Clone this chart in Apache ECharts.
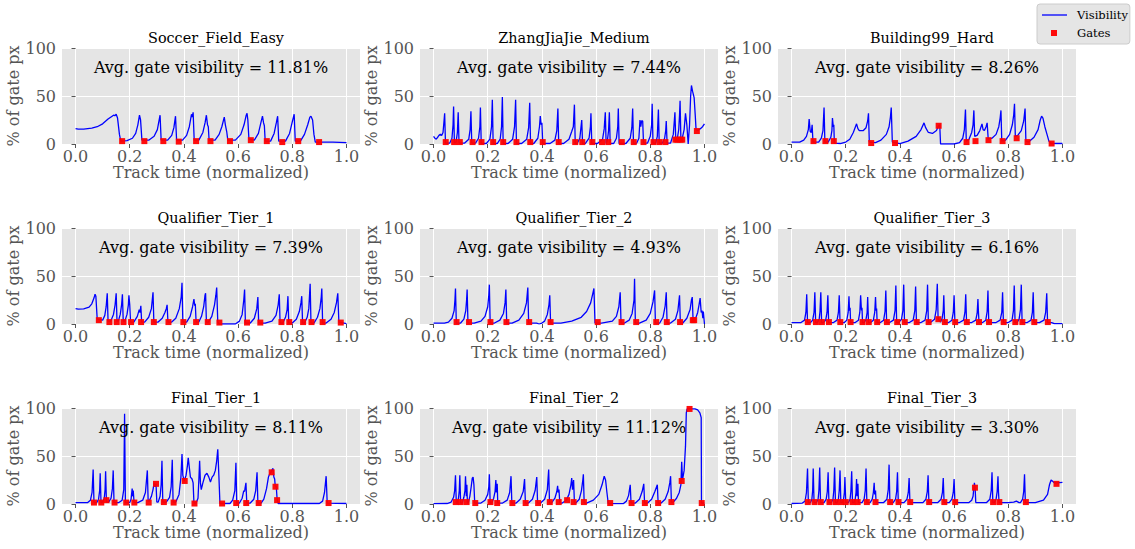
<!DOCTYPE html>
<html><head><meta charset="utf-8">
<script src="https://cdn.jsdelivr.net/npm/echarts@6/dist/echarts.min.js"></script>
<style>html,body{margin:0;padding:0;background:#fff}#c{width:1135px;height:549px}</style>
</head><body><div id="c"></div>
<script>
// ---------- data ----------
const panelTitles = ['Soccer_Field_Easy','ZhangJiaJie_Medium','Building99_Hard','Qualifier_Tier_1','Qualifier_Tier_2','Qualifier_Tier_3','Final_Tier_1','Final_Tier_2','Final_Tier_3'];
const avgVisibility = ['11.81','7.44','8.26','7.39','4.93','6.16','8.11','11.12','3.30'];
const xTicks = [0,0.2,0.4,0.6,0.8,1.0];
const yTicks = [0,50,100];

// visibility curves, flat [x,y,x,y,...]
const visSoccer = [0,16, 0.01,15.5, 0.03,15.5, 0.06,16.5, 0.08,18, 0.10,21, 0.12,26, 0.135,29, 0.14,30, 0.145,29.5, 0.15,31, 0.155,27, 0.162,10, 0.167,3,
0.19,3.5, 0.21,6, 0.222,11, 0.23,20, 0.236,30, 0.24,25, 0.245,4,
0.27,4, 0.29,8, 0.302,15, 0.308,24, 0.312,30, 0.316,4,
0.34,4, 0.355,9, 0.363,17, 0.369,29, 0.373,4,
0.395,4, 0.41,9, 0.42,18, 0.428,31, 0.431,28, 0.434,33, 0.438,4,
0.455,4, 0.47,12, 0.478,22, 0.483,30, 0.487,20, 0.49,18, 0.493,4,
0.515,4, 0.53,10, 0.54,18, 0.549,28, 0.553,20, 0.558,13, 0.562,4,
0.59,4, 0.61,10, 0.622,20, 0.63,30, 0.633,32, 0.636,25, 0.64,5,
0.66,4, 0.675,11, 0.684,22, 0.69,29, 0.694,22, 0.697,19, 0.7,3,
0.72,3, 0.733,11, 0.741,22, 0.746,29, 0.75,3,
0.775,3, 0.79,11, 0.8,23, 0.807,31, 0.811,3,
0.83,3, 0.845,10, 0.857,20, 0.865,28, 0.869,29, 0.875,25, 0.88,10, 0.885,2,
0.95,2, 1.0,1.5];
const visZhang = [0,8, 0.005,6, 0.01,5, 0.015,7, 0.02,9, 0.025,10, 0.03,9, 0.035,12, 0.039,25, 0.041,32, 0.044,1,
0.06,1, 0.068,6, 0.072,20, 0.074,39, 0.077,1,
0.083,2, 0.088,12, 0.091,33, 0.094,1,
0.115,1, 0.13,5, 0.135,15, 0.138,34, 0.141,1,
0.155,1, 0.166,6, 0.171,18, 0.173,38, 0.176,0.5,
0.195,0.5, 0.208,5, 0.214,18, 0.217,46, 0.22,0.5,
0.235,0.5, 0.246,5, 0.251,18, 0.254,49, 0.257,0.5,
0.275,0.5, 0.292,5, 0.299,18, 0.303,46, 0.306,0.5,
0.325,0.5, 0.344,5, 0.351,17, 0.355,43, 0.358,0.5,
0.37,0.5, 0.385,6, 0.391,18, 0.394,29, 0.397,20, 0.4,22, 0.403,0.5,
0.43,0.5, 0.448,4, 0.455,14, 0.459,37, 0.462,0.5,
0.48,0.5, 0.5,5, 0.51,13, 0.516,18, 0.52,41, 0.523,0.5,
0.53,0.5, 0.54,6, 0.547,25, 0.55,0.5,
0.56,0.5, 0.574,6, 0.579,18, 0.581,32, 0.584,0.5,
0.605,0.5, 0.624,5, 0.63,16, 0.634,33, 0.637,0.5, 0.642,4, 0.646,14, 0.649,33, 0.652,0.5,
0.665,0.5, 0.675,6, 0.68,18, 0.682,37, 0.685,0.5,
0.71,0.5, 0.726,6, 0.732,17, 0.735,37, 0.738,0.5,
0.75,1, 0.758,6, 0.762,25, 0.765,18, 0.768,24, 0.772,24, 0.775,1,
0.79,1, 0.8,8, 0.805,20, 0.807,42, 0.81,1,
0.82,1, 0.826,8, 0.83,36, 0.833,1,
0.845,1, 0.853,6, 0.857,14, 0.859,24, 0.862,1,
0.875,1, 0.885,10, 0.889,25, 0.891,33, 0.894,5,
0.9,6, 0.905,15, 0.908,30, 0.91,45, 0.913,5,
0.918,6, 0.925,15, 0.93,32, 0.935,20, 0.94,0, 0.945,20, 0.949,50, 0.952,61, 0.956,55, 0.962,48, 0.966,30, 0.969,15, 0.975,14, 0.985,16, 0.993,18, 1.0,21];
const visBuilding = [0,2, 0.03,2, 0.045,4, 0.055,8, 0.062,15, 0.065,26, 0.069,13, 0.073,12, 0.076,20, 0.079,2,
0.1,2, 0.11,6, 0.116,14, 0.12,38, 0.123,2,
0.135,2, 0.145,7, 0.149,14, 0.151,27, 0.154,18, 0.156,20, 0.158,1,
0.18,0.5, 0.2,2, 0.215,5, 0.228,12, 0.24,21, 0.245,16, 0.25,14, 0.265,14, 0.275,17, 0.281,24, 0.284,32, 0.287,2,
0.31,1.5, 0.33,4, 0.35,10, 0.36,18, 0.365,28, 0.368,38, 0.372,2,
0.4,0.5, 0.43,3, 0.46,8, 0.478,15, 0.489,22, 0.495,17, 0.505,12, 0.52,11, 0.535,14, 0.543,19, 0.547,20, 0.55,0,
0.6,0, 0.62,1.5, 0.632,6, 0.638,15, 0.642,36, 0.645,3, 0.655,5, 0.665,12, 0.67,20, 0.673,35, 0.676,8,
0.685,9, 0.695,14, 0.703,21, 0.707,15, 0.712,14, 0.718,18, 0.722,22, 0.726,5,
0.74,6, 0.755,10, 0.765,18, 0.77,27, 0.773,35, 0.776,3,
0.79,4, 0.805,10, 0.815,20, 0.82,30, 0.823,42, 0.826,8, 0.835,9, 0.848,14, 0.857,24, 0.862,37, 0.865,3,
0.875,2, 0.895,7, 0.91,15, 0.918,25, 0.923,29, 0.928,27, 0.935,18, 0.943,10, 0.95,3, 0.957,0.5, 1.0,0.5];
const visQual1 = [0,16, 0.01,15.5, 0.03,15.8, 0.05,17.5, 0.06,21, 0.068,27, 0.072,31, 0.075,29, 0.08,5,
0.1,4, 0.108,9, 0.113,18, 0.117,32, 0.12,3,
0.13,3, 0.14,10, 0.146,20, 0.15,32, 0.153,3,
0.158,3, 0.165,10, 0.17,20, 0.173,31, 0.176,3,
0.182,3, 0.19,10, 0.195,20, 0.197,30, 0.2,20, 0.203,2,
0.215,2, 0.228,8, 0.235,15, 0.238,12, 0.241,19, 0.244,2,
0.255,2, 0.27,7, 0.28,16, 0.286,33, 0.289,2,
0.305,2, 0.32,6, 0.33,12, 0.335,16, 0.338,20, 0.341,2,
0.355,2, 0.37,6, 0.383,16, 0.39,28, 0.393,43, 0.396,2,
0.41,2, 0.423,8, 0.432,18, 0.437,26, 0.44,19, 0.442,21, 0.445,2,
0.455,2, 0.465,8, 0.473,18, 0.478,30, 0.48,32, 0.483,2,
0.49,2, 0.503,8, 0.513,20, 0.518,30, 0.521,38, 0.525,2, 0.53,0,
0.59,0, 0.605,3, 0.615,10, 0.621,25, 0.624,36, 0.627,1,
0.645,1, 0.66,6, 0.669,16, 0.673,28, 0.676,1,
0.7,1, 0.725,3, 0.74,9, 0.748,20, 0.752,31, 0.755,1,
0.765,1, 0.775,7, 0.781,15, 0.784,29, 0.787,1,
0.8,1, 0.815,5, 0.826,13, 0.832,22, 0.835,29, 0.838,1,
0.845,1, 0.855,7, 0.861,16, 0.866,42, 0.869,1,
0.88,1, 0.893,7, 0.902,16, 0.907,28, 0.909,37, 0.912,1,
0.925,1, 0.943,5, 0.955,12, 0.963,22, 0.968,32, 0.972,2, 1.0,0.5];
const visQual2 = [0,1, 0.04,1, 0.055,2, 0.068,6, 0.076,14, 0.079,25, 0.081,37, 0.084,1,
0.1,1, 0.112,5, 0.119,14, 0.122,25, 0.124,36, 0.127,1,
0.15,1, 0.175,3, 0.19,8, 0.2,18, 0.204,30, 0.206,41, 0.209,1,
0.225,1, 0.245,4, 0.258,11, 0.264,22, 0.267,36, 0.27,1,
0.29,1, 0.315,4, 0.333,11, 0.343,22, 0.348,38, 0.351,1,
0.355,1, 0.38,1, 0.39,0, 0.4,1, 0.41,3, 0.42,10, 0.426,20, 0.429,30, 0.432,1,
0.47,1, 0.51,3, 0.545,7, 0.565,13, 0.58,22, 0.588,32, 0.592,37, 0.596,1,
0.62,1, 0.66,3, 0.675,8, 0.684,18, 0.689,33, 0.692,1,
0.705,1, 0.722,4, 0.733,11, 0.74,25, 0.742,47, 0.745,1,
0.76,1, 0.785,4, 0.8,11, 0.81,23, 0.816,35, 0.819,1,
0.835,1, 0.847,7, 0.855,19, 0.859,33, 0.862,1,
0.875,1, 0.893,5, 0.902,14, 0.908,30, 0.911,1,
0.92,1, 0.935,6, 0.947,15, 0.952,25, 0.955,28, 0.958,4,
0.965,4, 0.975,12, 0.98,20, 0.984,27, 0.988,12, 0.991,14, 0.994,6, 0.996,13, 1.0,0];
const visQual3 = [0,1.5, 0.035,1.5, 0.048,4, 0.053,12, 0.056,31, 0.059,1.5,
0.07,1.5, 0.078,4, 0.083,12, 0.086,33, 0.089,1.5,
0.095,1.5, 0.102,5, 0.105,13, 0.108,33, 0.111,1.5,
0.118,1.5, 0.126,4, 0.131,12, 0.134,30, 0.137,1.5,
0.155,1.5, 0.168,4, 0.173,12, 0.176,30, 0.179,1.5,
0.195,1.5, 0.204,4, 0.209,12, 0.212,29, 0.214,14, 0.216,17, 0.218,1.5,
0.235,1.5, 0.247,4, 0.252,12, 0.255,30, 0.258,14, 0.26,17, 0.262,1.5,
0.268,1.5, 0.275,5, 0.279,12, 0.281,28, 0.284,1.5,
0.292,1.5, 0.302,4, 0.307,12, 0.31,28, 0.312,14, 0.314,16, 0.316,1.5,
0.328,1.5, 0.34,4, 0.345,13, 0.348,35, 0.351,1.5,
0.362,1.5, 0.376,4, 0.382,14, 0.385,40, 0.388,1.5,
0.395,1.5, 0.406,5, 0.411,14, 0.414,41, 0.417,1.5,
0.435,1.5, 0.449,4, 0.455,14, 0.458,39, 0.461,1.5,
0.478,1.5, 0.493,4, 0.499,14, 0.502,41, 0.505,1.5,
0.515,2, 0.528,5, 0.534,15, 0.538,42, 0.541,5, 0.545,4,
0.55,2, 0.556,6, 0.56,14, 0.562,30, 0.565,1.5,
0.58,1.5, 0.592,4, 0.597,12, 0.6,30, 0.603,1.5,
0.62,1.5, 0.635,4, 0.64,12, 0.643,31, 0.646,1.5,
0.665,1.5, 0.68,4, 0.685,11, 0.688,26, 0.69,12, 0.692,1.5,
0.705,1.5, 0.717,4, 0.722,13, 0.725,35, 0.728,1.5,
0.755,1.5, 0.77,4, 0.776,12, 0.779,33, 0.782,1.5,
0.8,1.5, 0.814,4, 0.819,14, 0.822,40, 0.825,1.5,
0.832,1.5, 0.84,5, 0.845,15, 0.848,41, 0.851,1.5,
0.87,1.5, 0.884,4, 0.889,12, 0.892,33, 0.895,1.5,
0.915,1.5, 0.932,4, 0.938,12, 0.942,32, 0.945,1.5, 0.96,1.5, 0.97,0.3, 1.0,0.3];
const visFinal1 = [0,1.5, 0.045,1.5, 0.055,4, 0.061,12, 0.065,36, 0.068,1.5,
0.078,1.5, 0.085,5, 0.089,14, 0.091,32, 0.094,1.5,
0.1,2, 0.106,6, 0.109,15, 0.111,34, 0.114,2,
0.122,2, 0.131,6, 0.136,16, 0.139,35, 0.142,1.5,
0.16,1.5, 0.172,4, 0.178,15, 0.181,94, 0.184,1.5,
0.2,1.5, 0.205,5, 0.209,16, 0.211,8, 0.213,14, 0.216,1.5,
0.23,1.5, 0.248,4, 0.258,12, 0.265,35, 0.268,3,
0.272,3, 0.28,8, 0.286,15, 0.29,22, 0.293,18, 0.297,21, 0.3,2,
0.305,2, 0.312,8, 0.316,20, 0.319,45, 0.322,2,
0.335,2, 0.347,7, 0.353,18, 0.357,46, 0.36,2,
0.37,2, 0.382,10, 0.389,28, 0.393,52, 0.396,30, 0.401,24, 0.408,30, 0.413,40, 0.416,48, 0.42,38, 0.424,28, 0.43,26, 0.434,22, 0.437,1,
0.445,1, 0.452,6, 0.455,24, 0.458,45, 0.461,22, 0.464,15, 0.47,22, 0.478,30, 0.485,32, 0.492,28, 0.498,23, 0.504,28, 0.51,30, 0.516,35, 0.521,45, 0.525,57, 0.529,30, 0.533,0.5,
0.57,0.5, 0.58,4, 0.588,14, 0.592,43, 0.595,1,
0.605,1, 0.615,6, 0.621,14, 0.624,13, 0.626,17, 0.629,22, 0.632,1,
0.645,1, 0.658,5, 0.665,14, 0.67,33, 0.673,1,
0.685,1, 0.695,5, 0.705,16, 0.712,28, 0.716,31, 0.721,33, 0.726,36, 0.729,37, 0.732,28, 0.735,26, 0.737,19, 0.741,18, 0.744,5, 0.748,0.5,
0.9,0.5, 0.912,3, 0.919,12, 0.925,29, 0.929,1, 1.0,0.5];
const visFinal2 = [0,0.3, 0.05,0.5, 0.065,2, 0.074,7, 0.078,14, 0.081,30, 0.084,1,
0.088,1, 0.092,6, 0.095,14, 0.097,30, 0.1,1,
0.106,1, 0.112,7, 0.116,14, 0.118,29, 0.121,8, 0.123,20, 0.125,1,
0.128,1, 0.134,8, 0.139,18, 0.143,27, 0.146,28, 0.149,20, 0.152,1,
0.175,1, 0.19,4, 0.2,10, 0.204,18, 0.206,31, 0.209,1,
0.215,1, 0.222,6, 0.227,13, 0.23,25, 0.232,12, 0.235,21, 0.237,1,
0.255,1, 0.272,4, 0.281,12, 0.286,29, 0.289,1,
0.305,1, 0.32,5, 0.331,13, 0.336,26, 0.339,1,
0.35,1, 0.365,5, 0.375,14, 0.381,28, 0.384,1,
0.395,1, 0.41,5, 0.42,15, 0.425,36, 0.428,1,
0.435,1, 0.448,6, 0.455,13, 0.458,19, 0.46,12, 0.463,15, 0.466,1,
0.475,1, 0.49,4, 0.5,10, 0.507,20, 0.51,27, 0.513,15, 0.517,25, 0.52,1,
0.525,1, 0.538,5, 0.546,14, 0.551,25, 0.553,31, 0.556,1,
0.565,1, 0.59,4, 0.61,10, 0.622,20, 0.63,29, 0.635,25, 0.64,12, 0.645,0.3,
0.7,0.3, 0.712,3, 0.72,9, 0.726,20, 0.729,1,
0.745,1, 0.76,5, 0.77,13, 0.776,21, 0.779,1,
0.79,1, 0.805,5, 0.817,13, 0.826,20, 0.829,1,
0.84,1, 0.855,5, 0.866,13, 0.872,22, 0.875,29, 0.878,2,
0.885,2, 0.897,6, 0.907,12, 0.913,20, 0.916,44, 0.919,25, 0.925,35, 0.93,60, 0.933,95, 0.936,99, 0.95,99, 0.965,99, 0.975,98, 0.983,95, 0.988,90, 0.989,1, 1.0,1];
const visFinal3 = [0,0.5, 0.04,1, 0.05,3, 0.055,12, 0.059,37, 0.062,1.5,
0.07,1.5, 0.075,5, 0.078,14, 0.08,37, 0.083,1.5,
0.092,1.5, 0.098,5, 0.101,14, 0.104,38, 0.107,1.5,
0.12,1.5, 0.128,5, 0.132,13, 0.135,33, 0.138,1.5,
0.147,1.5, 0.153,5, 0.156,14, 0.159,38, 0.162,1.5,
0.168,1.5, 0.173,5, 0.176,14, 0.179,35, 0.182,1.5,
0.188,1.5, 0.192,5, 0.195,12, 0.197,28, 0.2,1.5,
0.21,1.5, 0.216,5, 0.219,13, 0.222,34, 0.225,1.5,
0.23,1.5, 0.235,5, 0.238,12, 0.24,26, 0.242,8, 0.245,21, 0.247,1.5,
0.26,1.5, 0.268,5, 0.272,14, 0.275,37, 0.278,1.5,
0.29,1.5, 0.298,5, 0.302,12, 0.305,22, 0.307,10, 0.31,14, 0.312,1.5,
0.34,1.5, 0.352,5, 0.357,15, 0.36,41, 0.363,1.5,
0.375,1.5, 0.384,5, 0.388,13, 0.391,33, 0.394,1.5,
0.415,1.5, 0.426,5, 0.431,12, 0.434,27, 0.437,1.5,
0.485,1.5, 0.496,5, 0.501,13, 0.504,30, 0.507,1.5,
0.54,1.5, 0.552,5, 0.557,12, 0.56,27, 0.563,1.5,
0.582,1.5, 0.592,5, 0.597,12, 0.6,26, 0.603,1.5,
0.655,1.5, 0.665,4, 0.67,8, 0.672,14, 0.675,22, 0.678,15, 0.68,1.5,
0.72,1.5, 0.732,5, 0.737,14, 0.74,33, 0.743,1.5,
0.748,1.5, 0.755,5, 0.759,13, 0.762,29, 0.764,12, 0.766,1.5,
0.8,1.5, 0.82,2, 0.83,3, 0.84,1.5,
0.845,1.5, 0.853,5, 0.857,13, 0.86,31, 0.863,1.5,
0.9,1.5, 0.93,4, 0.945,10, 0.952,20, 0.958,25, 0.963,24, 0.97,22, 0.98,22, 1.0,22.5];

// gates: x positions and visibility values
const gatesSoccerX = [0.172,0.254,0.324,0.381,0.445,0.498,0.57,0.647,0.706,0.763,0.822,0.899];
const gatesSoccerY = [3,3,3,2.5,3,3,3,4,3,2,3,2];
const gatesZhangX = [0.045,0.076,0.097,0.144,0.177,0.22,0.257,0.306,0.357,0.403,0.462,0.523,0.549,0.586,0.622,0.645,0.695,0.739,0.775,0.812,0.834,0.856,0.893,0.9,0.912,0.918,0.972];
const gatesZhangY = [2,2,2,2,2,2,2,2,2,2,2,2,2,2,2,2,2,2,2,2,2,2,4.5,4.5,4.5,4.5,13.5];
const gatesBuildingX = [0.081,0.125,0.156,0.294,0.382,0.543,0.646,0.679,0.727,0.779,0.831,0.871,0.96];
const gatesBuildingY = [3,3,3,1,1,19,2,3,4,3,6,2,0.5];
const gatesQual1X = [0.086,0.125,0.152,0.177,0.205,0.242,0.289,0.343,0.398,0.445,0.488,0.531,0.633,0.682,0.76,0.789,0.84,0.871,0.912,0.979];
const gatesQual1Y = [4,2,2,2,2,2,2,2,2,2,2,1.5,1.5,1.5,2,2,2,2,2,1.5];
const gatesQual2X = [0.085,0.131,0.21,0.269,0.353,0.432,0.606,0.694,0.748,0.822,0.861,0.91,0.957,0.962];
const gatesQual2Y = [2,2,2,2,2,2,2,2,2,2,2,2,4,4];
const gatesQual3X = [0.06,0.09,0.112,0.138,0.18,0.218,0.262,0.285,0.316,0.352,0.39,0.418,0.462,0.506,0.542,0.566,0.604,0.647,0.692,0.729,0.783,0.826,0.852,0.896,0.946];
const gatesQual3Y = [2,2,2,2,2,2,2,2,2,2,2,2,2,2,5,2,2,2,2,2,2,2,2,2,2];
const gatesFinal1X = [0.068,0.095,0.114,0.144,0.187,0.217,0.27,0.297,0.326,0.362,0.403,0.439,0.541,0.593,0.63,0.676,0.724,0.738,0.744,0.934];
const gatesFinal1Y = [1.5,1.5,4,1.5,1.5,1.5,1.5,21,2,1.5,24,0.5,0.5,1,1,1,33,18,4,1];
const gatesFinal2X = [0.082,0.1,0.122,0.154,0.21,0.235,0.291,0.34,0.386,0.429,0.462,0.493,0.517,0.555,0.652,0.731,0.78,0.829,0.878,0.916,0.945,0.99];
const gatesFinal2Y = [2,2,2,1,2,1,1,1,1,2,2,4,2,2,1,1,1,1,2,24,99,1];
const gatesFinal3X = [0.06,0.085,0.108,0.14,0.163,0.183,0.2,0.225,0.244,0.278,0.31,0.364,0.395,0.438,0.508,0.564,0.604,0.677,0.744,0.767,0.865,0.978];
const gatesFinal3Y = [2,2,2,2,2,2,2,2,2,2,2,2,2,2,2,2,2,17,2,2,2,21];

const visSeries = [visSoccer,visZhang,visBuilding,visQual1,visQual2,visQual3,visFinal1,visFinal2,visFinal3];
const gateXs = [gatesSoccerX,gatesZhangX,gatesBuildingX,gatesQual1X,gatesQual2X,gatesQual3X,gatesFinal1X,gatesFinal2X,gatesFinal3X];
const gateYs = [gatesSoccerY,gatesZhangY,gatesBuildingY,gatesQual1Y,gatesQual2Y,gatesQual3Y,gatesFinal1Y,gatesFinal2Y,gatesFinal3Y];

// ---------- layout ----------
const colLeft = [62, 420, 778];
const rowTop = [48, 228, 408];
const gw = 298, gh = 96;
const FONT = 'DejaVu Serif';
const GREY = '#555555';

function pairs(flat){ const o=[]; for(let i=0;i<flat.length;i+=2) o.push([flat[i],flat[i+1]]); return o; }
function zip(a,b){ return a.map((v,i)=>[v,b[i]]); }

const grid=[], xAxis=[], yAxis=[], series=[], title=[], graphic=[];
for(let i=0;i<9;i++){
  const r=Math.floor(i/3), c=i%3;
  const L=colLeft[c], T=rowTop[r];
  grid.push({left:L, top:T, width:gw, height:gh, show:true, backgroundColor:'#E5E5E5', borderWidth:0});
  xAxis.push({type:'value', gridIndex:i, min:-0.05, max:1.05,
    name:'Track time (normalized)', nameLocation:'middle', nameGap:20,
    nameTextStyle:{fontFamily:FONT, fontSize:16, color:GREY},
    axisLine:{show:false},
    axisTick:{show:true, length:4, lineStyle:{color:GREY}, customValues:xTicks},
    axisLabel:{fontFamily:FONT, fontSize:16, color:GREY, margin:4, customValues:xTicks, formatter:v=>v.toFixed(1)},
    splitLine:{show:true, lineStyle:{color:'#FFFFFF', width:1}}});
  yAxis.push({type:'value', gridIndex:i, min:0, max:100, interval:50,
    name:'% of gate px', nameLocation:'middle', nameGap:38, nameRotate:90,
    nameTextStyle:{fontFamily:FONT, fontSize:16, color:GREY},
    axisLine:{show:false},
    axisTick:{show:true, length:4, lineStyle:{color:GREY}},
    axisLabel:{fontFamily:FONT, fontSize:16, color:GREY, margin:6},
    splitLine:{show:true, lineStyle:{color:'#FFFFFF', width:1}}});
  series.push({type:'line', name:'Visibility', xAxisIndex:i, yAxisIndex:i, data:pairs(visSeries[i]),
    showSymbol:false, symbol:'none', lineStyle:{color:'#0000FF', width:1.3}, itemStyle:{color:'#0000FF'}, animation:false, z:3});
  series.push({type:'scatter', name:'Gates', xAxisIndex:i, yAxisIndex:i, data:zip(gateXs[i],gateYs[i]),
    symbol:'rect', symbolSize:6, itemStyle:{color:'#FF0000', opacity:0.95}, animation:false, z:4});
  title.push({text:panelTitles[i], left:L+gw/2, top:T-22, textAlign:'center',
    textStyle:{fontFamily:FONT, fontSize:14.4, fontWeight:'normal', color:'#000'}});
  graphic.push({type:'text', x:L+gw/2, y:T+19, z:10,
    style:{text:'Avg. gate visibility = '+avgVisibility[i]+'%', align:'center', verticalAlign:'middle',
      font:'16px "'+FONT+'"', fill:'#000'}});
}

const option = {
  backgroundColor:'#FFFFFF',
  animation:false,
  grid, xAxis, yAxis, series, title, graphic,
  legend:{
    orient:'vertical', left:1037, top:4,
    padding:[5,2,5,5], itemGap:6, itemWidth:30, itemHeight:10,
    backgroundColor:'#E5E5E5', borderColor:'#CCCCCC', borderWidth:1, borderRadius:3,
    textStyle:{fontFamily:FONT, fontSize:11.5, color:'#000'},
    data:[
      {name:'Visibility', icon:'path://M0,0M30,10M0,4.35L25,4.35L25,5.65L0,5.65Z'},
      {name:'Gates', icon:'path://M0,0M30,10M9,2L15,2L15,8L9,8Z'}
    ]
  }
};
const chart = echarts.init(document.getElementById('c'), null, {renderer:'svg'});
chart.setOption(option);
</script></body></html>
